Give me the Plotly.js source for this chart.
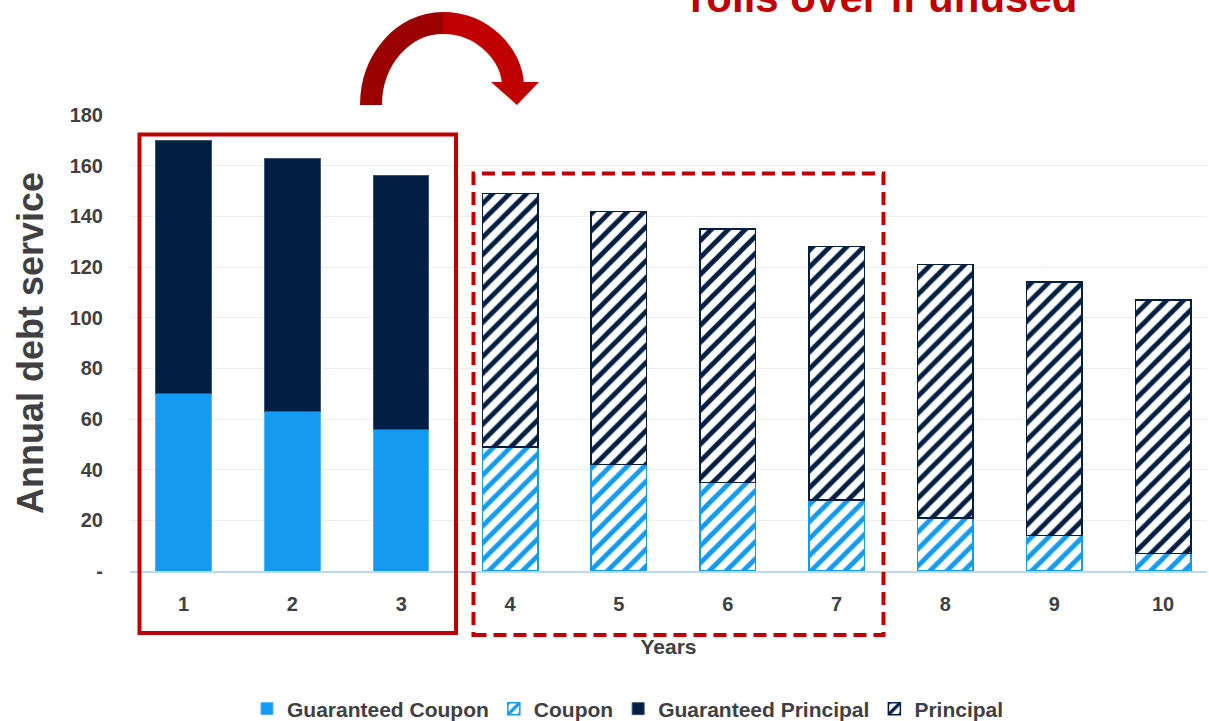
<!DOCTYPE html>
<html>
<head>
<meta charset="utf-8">
<script src="https://cdn.plot.ly/plotly-3.0.1.min.js"></script>
<style>html,body{margin:0;padding:0;background:#fff;}#chart{width:1209px;height:721px;}</style>
</head>
<body>
<div id="chart"></div>
<script>
// ---- data ----
const years = [1, 2, 3, 4, 5, 6, 7, 8, 9, 10];
const yearLabels = ["1", "2", "3", "4", "5", "6", "7", "8", "9", "10"];
const guaranteedYears = [1, 2, 3];
const guaranteedCoupon = [70, 63, 56];
const guaranteedPrincipal = [100, 100, 100];
const otherYears = [4, 5, 6, 7, 8, 9, 10];
const coupon = [49, 42, 35, 28, 21, 14, 7];
const principal = [100, 100, 100, 100, 100, 100, 100];
const yTickVals = [0, 20, 40, 60, 80, 100, 120, 140, 160, 180];
const yTickText = ["-", "20", "40", "60", "80", "100", "120", "140", "160", "180"];

// ---- styling ----
const FONT = "Liberation Sans, Arial, Helvetica, sans-serif";
const TXT = "#404040";
const LIGHT_BLUE = "#149BEF";
const NAVY = "#021E42";
const RED = "#C00000";

// plot area in pixels (for decorations in paper coords)
const L = 130, R = 1207, T = 115, B = 571;
const px = x => (x - L) / (R - L);
const py = y => (B - y) / (B - T);
const P = (x, y) => px(x).toFixed(4) + "," + py(y).toFixed(4);

const traces = [
  {
    type: "bar", name: "Guaranteed Coupon", x: guaranteedYears, y: guaranteedCoupon,
    marker: { color: LIGHT_BLUE, line: { color: "#4FB4F3", width: 1 } }
  },
  {
    type: "bar", name: "Coupon", x: otherYears, y: coupon,
    marker: { color: "#ffffff", line: { color: LIGHT_BLUE, width: 1.5 },
      pattern: { shape: "/", fgcolor: LIGHT_BLUE, bgcolor: "#ffffff", size: 12, solidity: 0.4 } }
  },
  {
    type: "bar", name: "Guaranteed Principal", x: guaranteedYears, y: guaranteedPrincipal,
    marker: { color: NAVY, line: { color: "#3E5673", width: 1 } }
  },
  {
    type: "bar", name: "Principal", x: otherYears, y: principal,
    marker: { color: "#ffffff", line: { color: NAVY, width: 1.5 },
      pattern: { shape: "/", fgcolor: NAVY, bgcolor: "#ffffff", size: 12, solidity: 0.4 } }
  }
];

const arcLeft = "M" + P(371, 105) + " C" + P(371, 60) + " " + P(403, 23) + " " + P(443, 23);
const arcRight = "M" + P(443, 23) + " C" + P(483, 23) + " " + P(512, 55) + " " + P(513, 85);
const head = "M" + P(491, 82) + " L" + P(539, 82) + " L" + P(517, 105) + " Z";

const layout = {
  width: 1209, height: 721,
  margin: { l: L, r: 1209 - R, t: T, b: 721 - B, pad: 0, autoexpand: false },
  paper_bgcolor: "#ffffff", plot_bgcolor: "#ffffff",
  barmode: "stack", bargap: 0.49,
  showlegend: true,
  font: { family: FONT, color: TXT },
  xaxis: {
    range: [0.508, 10.404], tickvals: years, ticktext: yearLabels,
    tickfont: { family: FONT, size: 20, color: TXT, weight: "bold" },
    ticks: "outside", ticklen: 14, tickcolor: "rgba(0,0,0,0)",
    showgrid: false, showline: true, linecolor: "#BDD7EE", linewidth: 1.5,
    zeroline: false, fixedrange: true, automargin: false,
    title: { text: "Years", font: { family: FONT, size: 21, color: TXT, weight: "bold" }, standoff: 26 }
  },
  yaxis: {
    range: [0, 180], tickvals: yTickVals, ticktext: yTickText,
    tickfont: { family: FONT, size: 20, color: TXT, weight: "bold" },
    ticks: "outside", ticklen: 22, tickcolor: "rgba(0,0,0,0)",
    showgrid: true, gridcolor: "#EDEDED", gridwidth: 1,
    zeroline: false, showline: false, fixedrange: true, automargin: false,
    title: { text: "Annual debt service", font: { family: FONT, size: 36, color: TXT, weight: "bold" }, standoff: 15 }
  },
  legend: {
    orientation: "h", x: px(628), xanchor: "center", y: py(709), yanchor: "middle",
    traceorder: "normal", font: { family: FONT, size: 21, color: TXT, weight: "bold" },
    itemwidth: 30, bgcolor: "rgba(0,0,0,0)"
  },
  shapes: [
    { type: "rect", xref: "paper", yref: "paper", x0: px(139.5), x1: px(456), y0: py(633), y1: py(134.5),
      line: { color: RED, width: 4 }, fillcolor: "rgba(0,0,0,0)" },
    { type: "rect", xref: "paper", yref: "paper", x0: px(473.5), x1: px(883.5), y0: py(635), y1: py(173.5),
      line: { color: RED, width: 4, dash: "13px,7px" }, fillcolor: "rgba(0,0,0,0)" },
    { type: "path", xref: "paper", yref: "paper", path: arcLeft, line: { color: "#9A0000", width: 22 } },
    { type: "path", xref: "paper", yref: "paper", path: arcRight, line: { color: RED, width: 22 } },
    { type: "path", xref: "paper", yref: "paper", path: head, fillcolor: RED, line: { width: 0 } }
  ],
  annotations: [
    { xref: "paper", yref: "paper", x: px(883), y: py(23), xanchor: "center", yanchor: "bottom",
      text: "rolls over if unused", showarrow: false,
      font: { family: FONT, size: 42, color: RED, weight: "bold" } }
  ]
};

Plotly.newPlot("chart", traces, layout, { displayModeBar: false, staticPlot: true });
</script>
</body>
</html>
